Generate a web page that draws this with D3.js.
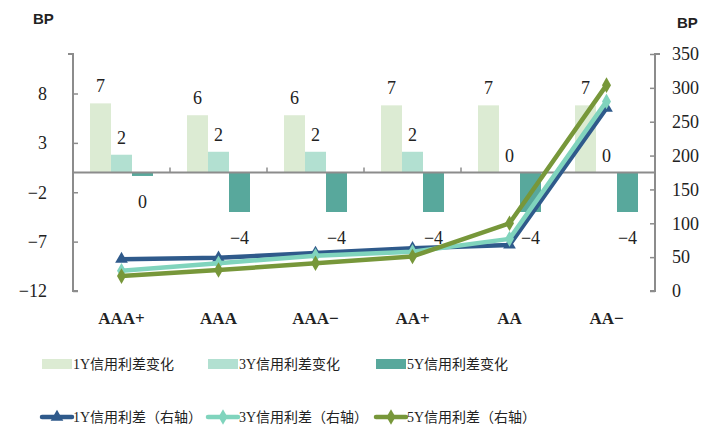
<!DOCTYPE html>
<html>
<head>
<meta charset="utf-8">
<script src="https://cdn.jsdelivr.net/npm/d3@7"></script>
<style>
body { margin: 0; background: #fff; }
text { font-family: "Liberation Serif", "Noto Sans CJK SC", serif; fill: #222; }
</style>
</head>
<body>
<script>
// 评级类别
var categories = ['AAA+', 'AAA', 'AAA\u2212', 'AA+', 'AA', 'AA\u2212'];
// 信用利差变化（左轴，BP）
var chg1Y = [7.0, 5.8, 5.8, 6.8, 6.8, 6.8];
var chg3Y = [1.8, 2.1, 2.1, 2.1, 0, 0];
var chg5Y = [-0.35, -4, -4, -4, -4, -4];
// 信用利差（右轴，BP）
var spread1Y = [47, 49, 56, 63, 68, 270];
var spread3Y = [30, 41, 52, 58, 77, 280];
var spread5Y = [22, 31, 41, 51, 100, 304];
var leftTicks = [-12, -7, -2, 3, 8];
var rightTicks = [0, 50, 100, 150, 200, 250, 300, 350];

var width = 705, height = 426;
var pLeft = 73, pRight = 655, pTop = 54, pBottom = 291;

var barSeries = [
  {name: '1Y信用利差变化', values: chg1Y, color: '#dcebd3'},
  {name: '3Y信用利差变化', values: chg3Y, color: '#b2e0d1'},
  {name: '5Y信用利差变化', values: chg5Y, color: '#58a89c'}
];
var lineSeries = [
  {name: '1Y信用利差（右轴）', values: spread1Y, color: '#2f5a8b', marker: 'triangle'},
  {name: '3Y信用利差（右轴）', values: spread3Y, color: '#80d4bd', marker: 'diamond'},
  {name: '5Y信用利差（右轴）', values: spread5Y, color: '#77973a', marker: 'diamond'}
];

var svg = d3.select('body').append('svg')
  .attr('width', width)
  .attr('height', height);

var x = d3.scaleBand().domain(categories).range([pLeft, pRight]);
var xInner = d3.scaleBand().domain(d3.range(3)).range([17, x.bandwidth() - 17]);
var yL = d3.scaleLinear().domain([-12, 12]).range([pBottom, pTop]);
var yR = d3.scaleLinear().domain([0, 350]).range([pBottom, pTop]);

// 坐标轴
var axisL = svg.append('g')
  .attr('transform', 'translate(' + pLeft + ',0)')
  .call(d3.axisLeft(yL).tickValues(leftTicks).tickSize(-5).tickPadding(26).tickFormat(d3.format('d')));
var axisR = svg.append('g')
  .attr('transform', 'translate(' + pRight + ',0)')
  .call(d3.axisRight(yR).tickValues(rightTicks).tickSize(-5).tickPadding(17));
[axisL, axisR].forEach(function(a){
  a.select('.domain').attr('stroke', '#8c8c8c').attr('stroke-width', 2)
    .attr('d', a === axisL ? 'M-5,' + pTop + 'H0V' + pBottom + 'H5' : 'M5,' + pTop + 'H0V' + pBottom + 'H-5');
  a.selectAll('.tick line').attr('stroke', '#8c8c8c').attr('stroke-width', 1.5);
  a.selectAll('.tick text').style('font-size', '18px').attr('fill', '#222')
    .style('font-family', '"Liberation Serif", serif');
});

// 柱状
barSeries.forEach(function(s, j){
  var g = svg.append('g');
  g.selectAll('rect').data(s.values).enter().append('rect')
    .attr('x', function(d, i){ return x(categories[i]) + xInner(j); })
    .attr('width', xInner.bandwidth())
    .attr('y', function(d){ return yL(Math.max(0, d)); })
    .attr('height', function(d){ return Math.abs(yL(d) - yL(0)); })
    .attr('fill', s.color);
  g.selectAll('text').data(s.values).enter().append('text')
    .attr('x', function(d, i){ return x(categories[i]) + xInner(j) + xInner.bandwidth() / 2; })
    .attr('y', function(d){ return d < 0 ? yL(d) + 32 : yL(d) - 11; })
    .attr('text-anchor', 'middle')
    .style('font-size', '18px')
    .text(function(d){ return d3.format('.0f')(d); });
});

// 零轴
svg.append('line')
  .attr('x1', pLeft).attr('x2', pRight)
  .attr('y1', yL(0)).attr('y2', yL(0))
  .attr('stroke', '#8c8c8c').attr('stroke-width', 2);
svg.append('g').selectAll('line').data(categories.slice(1)).enter().append('line')
  .attr('x1', function(d){ return x(d); }).attr('x2', function(d){ return x(d); })
  .attr('y1', yL(0)).attr('y2', yL(0) - 5)
  .attr('stroke', '#8c8c8c').attr('stroke-width', 1.5);

// 折线
var tri = d3.symbol().type(d3.symbolTriangle).size(70);
var dia = d3.symbol().type(d3.symbolDiamond).size(70);
lineSeries.forEach(function(s){
  var line = d3.line()
    .x(function(d, i){ return x(categories[i]) + x.bandwidth() / 2; })
    .y(function(d){ return yR(d); });
  svg.append('path').datum(s.values)
    .attr('d', line)
    .attr('fill', 'none')
    .attr('stroke', s.color)
    .attr('stroke-width', 4.5)
    .attr('stroke-linejoin', 'round');
  svg.append('g').selectAll('path').data(s.values).enter().append('path')
    .attr('transform', function(d, i){
      return 'translate(' + (x(categories[i]) + x.bandwidth() / 2) + ',' + yR(d) + ')';
    })
    .attr('d', s.marker === 'triangle' ? tri : dia)
    .attr('fill', s.color);
});

// 类别标签
svg.append('g').selectAll('text').data(categories).enter().append('text')
  .attr('x', function(d){ return x(d) + x.bandwidth() / 2; })
  .attr('y', 324)
  .attr('text-anchor', 'middle')
  .style('font-size', '17px')
  .style('font-weight', 'bold')
  .text(function(d){ return d; });

// 单位
svg.append('text').attr('x', 33).attr('y', 24)
  .style('font-family', '"Liberation Sans", Arial, sans-serif')
  .style('font-size', '15px').style('font-weight', 'bold').text('BP');
svg.append('text').attr('x', 677).attr('y', 28)
  .style('font-family', '"Liberation Sans", Arial, sans-serif')
  .style('font-size', '15px').style('font-weight', 'bold').text('BP');

// 图例
var legendX = [42, 208, 376];
barSeries.forEach(function(s, j){
  svg.append('rect').attr('x', legendX[j]).attr('y', 359)
    .attr('width', 30).attr('height', 10).attr('fill', s.color);
  svg.append('text').attr('x', legendX[j] + 31).attr('y', 369)
    .style('font-size', '14px').text(s.name);
});
lineSeries.forEach(function(s, j){
  svg.append('line').attr('x1', legendX[j]).attr('x2', legendX[j] + 30)
    .attr('y1', 417).attr('y2', 417)
    .attr('stroke', s.color).attr('stroke-width', 4.5).attr('stroke-linecap', 'round');
  svg.append('path').attr('transform', 'translate(' + (legendX[j] + 15) + ',417)')
    .attr('d', s.marker === 'triangle' ? tri : dia).attr('fill', s.color);
  svg.append('text').attr('x', legendX[j] + 31).attr('y', 422)
    .style('font-size', '14px').text(s.name);
});
</script>
</body>
</html>
